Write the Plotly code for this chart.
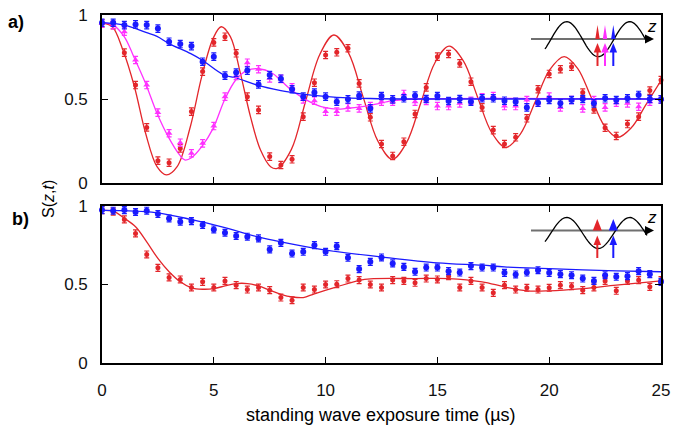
import numpy as np
import plotly.graph_objects as go

# exposure time (us)
t = [0, 0.5, 1, 1.5, 2, 2.5, 3, 3.5, 4, 4.5, 5, 5.5, 6, 6.5, 7, 7.5, 8, 8.5, 9, 9.5,
     10, 10.5, 11, 11.5, 12, 12.5, 13, 13.5, 14, 14.5, 15, 15.5, 16, 16.5, 17, 17.5,
     18, 18.5, 19, 19.5, 20, 20.5, 21, 21.5, 22, 22.5, 23, 23.5, 24, 24.5, 25]

# panel a) measured S(z,t)
a_red = [0.95, 0.94, 0.776, 0.583, 0.331, 0.133, 0.121, 0.206, 0.425, 0.663, 0.837, 0.871,
         0.772, 0.514, 0.435, 0.157, 0.107, 0.141, 0.395, 0.597, 0.762, 0.778, 0.802, 0.593,
         0.391, 0.232, 0.161, 0.246, 0.411, 0.569, 0.752, 0.768, 0.712, 0.603, 0.450, 0.315,
         0.232, 0.272, 0.385, 0.558, 0.649, 0.677, 0.692, 0.538, 0.438, 0.329, 0.280, 0.351,
         0.395, 0.550, 0.613]
a_pink = [0.95, 0.94, 0.901, 0.732, 0.583, 0.419, 0.296, 0.240, 0.177, 0.236, 0.339, 0.514,
          0.637, 0.716, 0.677, 0.623, 0.62, 0.57, 0.498, 0.49, 0.425, 0.425, 0.450, 0.444,
          0.458, 0.484, 0.484, 0.530, 0.484, 0.488, 0.458, 0.458, 0.474, 0.490, 0.51, 0.518,
          0.458, 0.458, 0.494, 0.478, 0.514, 0.450, 0.494, 0.444, 0.494, 0.450, 0.478, 0.474,
          0.454, 0.484, 0.498]
a_blue = [0.954, 0.954, 0.940, 0.944, 0.940, 0.919, 0.841, 0.827, 0.815, 0.722, 0.752, 0.639,
          0.657, 0.669, 0.587, 0.643, 0.621, 0.558, 0.514, 0.538, 0.514, 0.484, 0.498, 0.520,
          0.444, 0.518, 0.498, 0.504, 0.520, 0.500, 0.518, 0.488, 0.500, 0.484, 0.504, 0.504,
          0.490, 0.484, 0.450, 0.478, 0.494, 0.474, 0.494, 0.500, 0.474, 0.504, 0.494, 0.504,
          0.524, 0.500, 0.498]

# panel b) measured S(z,t)
b_red = [0.972, 0.962, 0.913, 0.824, 0.690, 0.605, 0.544, 0.531, 0.480, 0.516, 0.480, 0.522,
         0.495, 0.467, 0.480, 0.463, 0.416, 0.399, 0.480, 0.467, 0.499, 0.501, 0.537, 0.527,
         0.499, 0.480, 0.527, 0.522, 0.510, 0.537, 0.531, 0.552, 0.480, 0.522, 0.480, 0.446,
         0.495, 0.467, 0.478, 0.467, 0.478, 0.495, 0.488, 0.463, 0.480, 0.522, 0.459, 0.522,
         0.527, 0.484, 0.527]
b_blue = [0.972, 0.968, 0.972, 0.960, 0.968, 0.947, 0.919, 0.898, 0.902, 0.877, 0.849, 0.828,
          0.807, 0.803, 0.792, 0.722, 0.764, 0.696, 0.707, 0.749, 0.707, 0.743, 0.669, 0.597,
          0.643, 0.671, 0.633, 0.611, 0.580, 0.607, 0.607, 0.584, 0.575, 0.616, 0.607, 0.607,
          0.573, 0.563, 0.575, 0.590, 0.573, 0.565, 0.558, 0.537, 0.522, 0.558, 0.548, 0.552,
          0.584, 0.565, 0.516]

# fitted curves
fa_red_t = [0, 0.46, 0.94, 1.45, 1.95, 2.46, 2.88, 3.36, 3.95, 4.46, 4.97, 5.33, 5.74, 6.19,
            6.64, 7.09, 7.54, 7.84, 8.47, 9.1, 9.74, 10.37, 11.03, 11.68, 12.34, 12.99, 13.62,
            14.26, 14.89, 15.52, 16.16, 16.79, 17.43, 18.06, 18.71, 19.37, 20.02, 20.67, 21.27,
            21.87, 22.46, 23.06, 23.68, 24.3, 25]
fa_red = [0.954, 0.93, 0.79, 0.573, 0.296, 0.097, 0.048, 0.097, 0.335, 0.633, 0.861, 0.93,
          0.871, 0.653, 0.395, 0.196, 0.097, 0.087, 0.20, 0.484, 0.765, 0.881, 0.773, 0.511,
          0.249, 0.141, 0.24, 0.478, 0.716, 0.815, 0.727, 0.514, 0.30, 0.212, 0.291, 0.482,
          0.673, 0.752, 0.682, 0.512, 0.342, 0.272, 0.33, 0.46, 0.61]
fa_pink_t = [0, 0.5, 1, 1.42, 1.95, 2.46, 2.96, 3.47, 3.7, 4.0, 4.46, 4.97, 5.48, 5.98, 6.49,
             7.0, 7.6, 8, 8.5, 9, 9.5, 10, 10.5, 11, 12, 13, 14, 25]
fa_pink = [0.955, 0.94, 0.87, 0.752, 0.593, 0.415, 0.276, 0.167, 0.137, 0.15, 0.216, 0.325,
           0.494, 0.613, 0.67, 0.68, 0.655, 0.61, 0.55, 0.505, 0.47, 0.448, 0.44, 0.445,
           0.462, 0.49, 0.50, 0.50]
fa_blue_t = [0, 1, 2, 2.46, 3, 3.97, 4.47, 5.45, 6, 6.94, 8, 8.43, 9.48, 10.5, 12, 14, 25]
fa_blue = [0.955, 0.94, 0.895, 0.873, 0.83, 0.77, 0.732, 0.643, 0.625, 0.583, 0.55, 0.54,
           0.521, 0.51, 0.503, 0.5, 0.5]

fb_red_t = [0, 0.5, 1, 1.5, 2, 2.5, 3, 3.5, 4, 4.5, 5, 5.5, 6, 6.5, 7, 7.5, 8, 8.5, 9, 9.5,
            10.5, 11.5, 12, 14, 15.5, 17, 18, 19, 20, 21.5, 23, 25]
fb_red = [0.97, 0.965, 0.92, 0.866, 0.77, 0.665, 0.58, 0.516, 0.478, 0.469, 0.473, 0.49,
          0.505, 0.505, 0.49, 0.463, 0.437, 0.42, 0.416, 0.44, 0.484, 0.525, 0.535, 0.537,
          0.537, 0.516, 0.484, 0.459, 0.459, 0.473, 0.495, 0.522]
fb_blue_t = [0, 1, 2.46, 3.97, 5.45, 6.94, 8, 10, 12.47, 15, 17, 18, 20, 23, 25]
fb_blue = [0.97, 0.968, 0.955, 0.913, 0.862, 0.803, 0.77, 0.718, 0.675, 0.637, 0.622, 0.611,
           0.60, 0.586, 0.58]

RED = '#e3262b'
PINK = '#ff30ff'
BLUE = '#1a1aff'
FONT = 'Arial, Liberation Sans, sans-serif'

fig = go.Figure()


def add_points(y, color, symbol, xa, ya, size=5):
    fig.add_trace(go.Scatter(
        x=t, y=y, mode='markers', xaxis=xa, yaxis=ya, cliponaxis=False,
        marker=dict(color=color, size=size, symbol=symbol),
        error_y=dict(type='constant', value=0.022, color=color, thickness=1.2, width=2.5),
        showlegend=False, hoverinfo='x+y'))


def add_fit(x, y, color, xa, ya):
    fig.add_trace(go.Scatter(
        x=x, y=y, mode='lines', xaxis=xa, yaxis=ya,
        line=dict(color=color, width=1.3, shape='spline'),
        showlegend=False, hoverinfo='skip'))


# panel a
add_fit(fa_red_t, fa_red, RED, 'x', 'y')
add_fit(fa_pink_t, fa_pink, PINK, 'x', 'y')
add_fit(fa_blue_t, fa_blue, BLUE, 'x', 'y')
add_points(a_red, RED, 'circle', 'x', 'y')
add_points(a_pink, PINK, 'triangle-up', 'x', 'y', 6)
add_points(a_blue, BLUE, 'circle', 'x', 'y', 6)

# panel b
add_fit(fb_red_t, fb_red, RED, 'x2', 'y2')
add_fit(fb_blue_t, fb_blue, BLUE, 'x2', 'y2')
add_points(b_red, RED, 'circle', 'x2', 'y2')
add_points(b_blue, BLUE, 'circle', 'x2', 'y2', 6)

# ---- inset sketches (standing wave + atom positions), drawn in pixel units
L, R, T, B = 102, 25, 15, 70
W, H = 686, 433
PW, PH = W - L - R, H - T - B


def px(x):
    return (x - L) / PW


def py(y):
    return (H - B - y) / PH


shapes = []
annos = []


def label(x, y, text, size=16, **kw):
    annos.append(dict(xref='paper', yref='paper', x=px(x), y=py(y), text=text,
                      xanchor='center', yanchor='middle', showarrow=False,
                      font=dict(family=FONT, size=size, color='black'), **kw))


def tri(x0, y0, x1, y1, x2, y2, col):
    shapes.append(dict(type='path', xref='paper', yref='paper', fillcolor=col,
                       line=dict(width=0),
                       path='M %f,%f L %f,%f L %f,%f Z' % (px(x0), py(y0), px(x1), py(y1),
                                                         px(x2), py(y2))))


def inset(y_axis, y_wave, amp, heads, spike_h, spike_w, tail_y, tip_y):
    # horizontal z axis
    shapes.append(dict(type='line', xref='paper', yref='paper', x0=px(531), x1=px(647),
                       y0=py(y_axis), y1=py(y_axis), line=dict(color='#707070', width=2)))
    tri(645, y_axis - 4.5, 654, y_axis, 645, y_axis + 4.5, 'black')
    xs = np.linspace(545, 647, 80)
    ys = y_wave - amp * np.cos(2 * np.pi * (xs - 566.7) / 63)
    path = 'M ' + ' L '.join('%f,%f' % (px(a), py(b)) for a, b in zip(xs, ys))
    shapes.append(dict(type='path', xref='paper', yref='paper', path=path,
                       line=dict(color='black', width=1.3)))
    label(652, y_axis - 13, '<i>z</i>', 17)
    for xc, col in heads:
        # density peak above the axis
        tri(xc - spike_w, y_axis, xc, y_axis - spike_h, xc + spike_w, y_axis, col)
        # arrow below
        shapes.append(dict(type='line', xref='paper', yref='paper', x0=px(xc), x1=px(xc),
                           y0=py(tail_y), y1=py(tip_y + 8), line=dict(color=col, width=2)))
        tri(xc - 3.8, tip_y + 9.5, xc, tip_y, xc + 3.8, tip_y + 9.5, col)


inset(39, 39.2, 17.5, [(597.5, RED), (605, PINK), (613.3, BLUE)], 14, 2.2, 66, 43)
inset(230.5, 233, 15.5, [(597.3, RED), (613.3, BLUE)], 11.5, 4.5, 258, 235.5)

label(16, 22, '<b>a)</b>', 18)
label(20, 219, '<b>b)</b>', 18)
label(48, 199, 'S(<i>z</i>,<i>t</i>)', 16, textangle=-90)
label(381, 415, 'standing wave exposure time (µs)', 18)

axis_common = dict(showline=True, mirror='ticks', linecolor='black', linewidth=1.6,
                   ticks='inside', ticklen=6, tickwidth=1.2, tickcolor='black',
                   showgrid=False, zeroline=False, automargin=False,
                   tickfont=dict(family=FONT, size=17, color='#111'))

top_lo = py(183)
bot_hi = py(205.7)

fig.update_layout(
    width=W, height=H,
    margin=dict(l=L, r=R, t=T, b=B),
    paper_bgcolor='white', plot_bgcolor='white',
    showlegend=False,
    xaxis=dict(axis_common, domain=[0, 1], anchor='y', range=[0, 25],
               tickvals=[0, 5, 10, 15, 20, 25], showticklabels=False),
    yaxis=dict(axis_common, domain=[top_lo, 1], anchor='x', range=[0, 1],
               tickvals=[0, 0.5, 1], ticktext=['0', '0.5', '1'], ticklabelstandoff=9),
    xaxis2=dict(axis_common, domain=[0, 1], anchor='y2', range=[0, 25],
                tickvals=[0, 5, 10, 15, 20, 25], ticklabelstandoff=11),
    yaxis2=dict(axis_common, domain=[0, bot_hi], anchor='x2', range=[0, 1],
                tickvals=[0, 0.5, 1], ticktext=['0', '0.5', '1'], ticklabelstandoff=9),
    shapes=shapes,
    annotations=annos,
)

# the page's default body margin would shift the figure by 8px
fig.write_html('out.html', config={'displayModeBar': False},
               post_script="document.body.style.margin = '0px';")
